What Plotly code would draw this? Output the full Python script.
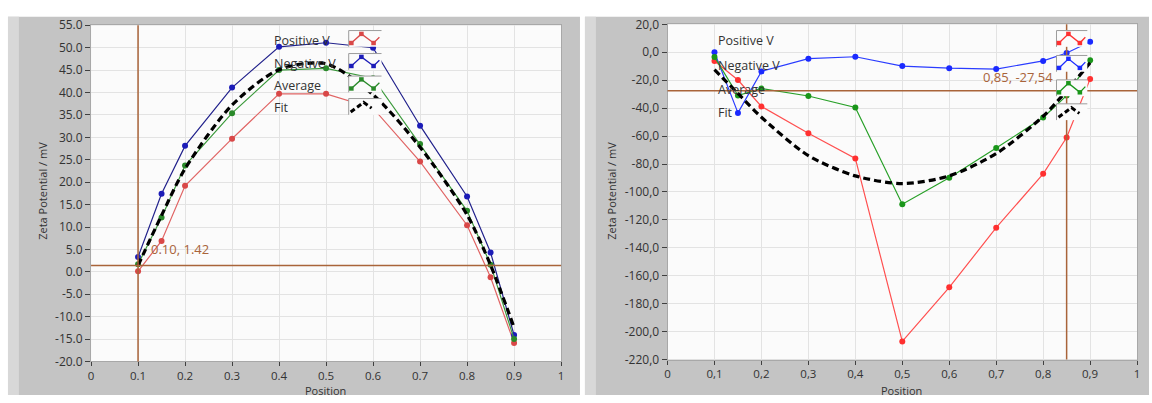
import plotly.graph_objects as go

W, H = 1152, 403


def fx(p):
    return p / W


def fy(p):
    return 1 - p / H


# ---------------- data ----------------
positions = [0.1, 0.15, 0.2, 0.3, 0.4, 0.5, 0.6, 0.7, 0.8, 0.85, 0.9]

left_positive_v = [0.1, 6.9, 19.2, 29.7, 39.7, 39.7, 36.5, 24.6, 10.4, -1.2, -15.9]
left_negative_v = [3.3, 17.4, 28.1, 41.1, 50.2, 51.1, 50.0, 32.6, 16.8, 4.3, -14.1]
left_average = [1.7, 12.1, 23.7, 35.4, 45.0, 45.4, 43.2, 28.5, 13.6, 1.6, -15.0]
left_fit = [1.42, 12.6, 23.0, 37.2, 45.1, 46.4, 39.5, 27.8, 12.7, 1.5, -12.4]

right_positive_v = [-6.2, -19.9, -38.8, -58.0, -76.0, -207.0, -168.3, -125.6, -87.0, -61.0, -19.2]
right_negative_v = [0.0, -43.4, -13.7, -4.6, -3.2, -9.9, -11.4, -12.0, -6.2, -0.5, 7.5]
right_average = [-3.3, -31.0, -25.9, -31.3, -39.5, -108.8, -89.8, -68.6, -46.7, -31.0, -5.8]
right_fit = [-12.5, -29.5, -46.5, -74.0, -88.5, -94.0, -88.5, -72.5, -45.8, -27.54, -7.5]

left_cursor = (0.10, 1.42)
right_cursor = (0.85, -27.54)
left_cursor_label = "0.10, 1.42"
right_cursor_label = "0,85, -27,54"

series_names = ["Positive V", "Negative V", "Average", "Fit"]

x_tickvals = [0, 0.1, 0.2, 0.3, 0.4, 0.5, 0.6, 0.7, 0.8, 0.9, 1]
left_x_ticktext = ["0", "0.1", "0.2", "0.3", "0.4", "0.5", "0.6", "0.7", "0.8", "0.9", "1"]
right_x_ticktext = ["0", "0,1", "0,2", "0,3", "0,4", "0,5", "0,6", "0,7", "0,8", "0,9", "1"]

left_y_tickvals = [55, 50, 45, 40, 35, 30, 25, 20, 15, 10, 5, 0, -5, -10, -15, -20]
left_y_ticktext = ["55.0", "50.0", "45.0", "40.0", "35.0", "30.0", "25.0", "20.0", "15.0",
                   "10.0", "5.0", "0.0", "-5.0", "-10.0", "-15.0", "-20.0"]
right_y_tickvals = [20, 0, -20, -40, -60, -80, -100, -120, -140, -160, -180, -200, -220]
right_y_ticktext = ["20,0", "0,0", "-20,0", "-40,0", "-60,0", "-80,0", "-100,0", "-120,0",
                    "-140,0", "-160,0", "-180,0", "-200,0", "-220,0"]

x_title = "Position"
y_title = "Zeta Potential / mV"

# ---------------- styles ----------------
FONT = "Open Sans"
TXT = "#333333"
FRAME = "#c4c4c4"
FRAME_LIGHT = "#d8d8d8"
PLOT_BG = "#fbfbfb"
GRID = "#e3e3e3"
CURSOR = "#a9643a"

left_colors = {"Positive V": ("#e06464", "#d94848"),
               "Negative V": ("#22228c", "#1c1cb8"),
               "Average": ("#3c9a3c", "#2a8a2a"),
               "Fit": ("#000000", "#000000")}
right_colors = {"Positive V": ("#ff5050", "#ff3030"),
                "Negative V": ("#2a3cff", "#1a2aff"),
                "Average": ("#28a028", "#1a961a"),
                "Fit": ("#000000", "#000000")}

LEFT_PLOT = (88.5, 561, 17, 368)     # px: x0, x1, ytop, ybottom
RIGHT_PLOT = (668, 1140, 16, 366)

fig = go.Figure()


def add_series(xa, ya, data, colors):
    for name, vals in zip(series_names, data):
        lc, mc = colors[name]
        if name == "Fit":
            fig.add_trace(go.Scatter(
                x=positions, y=vals, xaxis=xa, yaxis=ya, mode="lines",
                line=dict(color=lc, width=3.2, dash="7px,4px", shape="spline", smoothing=0.8),
                name=name, showlegend=False, hoverinfo="skip"))
        else:
            fig.add_trace(go.Scatter(
                x=positions, y=vals, xaxis=xa, yaxis=ya, mode="lines+markers",
                line=dict(color=lc, width=1.2),
                marker=dict(color=mc, size=6, line=dict(width=0)),
                name=name, showlegend=False, hoverinfo="skip"))


add_series("x", "y", [left_positive_v, left_negative_v, left_average, left_fit], left_colors)
add_series("x2", "y2", [right_positive_v, right_negative_v, right_average, right_fit], right_colors)

axis_common = dict(
    showgrid=True, gridcolor=GRID, gridwidth=1, zeroline=False,
    showline=True, linecolor="#a8a8a8", linewidth=1, mirror=True,
    ticks="outside", tickwidth=1, tickcolor="#404040", fixedrange=True,
)
xfont = dict(family=FONT, size=11.5, color=TXT)
yfont = dict(family=FONT, size=12, color=TXT)

fig.update_layout(
    width=W, height=H, autosize=False,
    margin=dict(l=0, r=0, t=0, b=0),
    paper_bgcolor="white", plot_bgcolor=PLOT_BG,
    showlegend=False,
    xaxis=dict(domain=[fx(LEFT_PLOT[0]), fx(LEFT_PLOT[1])], range=[0, 1], anchor="y", ticklen=4,
               tickfont=xfont, tickmode="array", tickvals=x_tickvals, ticktext=left_x_ticktext,
               **axis_common),
    yaxis=dict(domain=[fy(LEFT_PLOT[3]), fy(LEFT_PLOT[2])], range=[-20, 55], anchor="x", ticklen=5,
               tickfont=yfont, tickmode="array", tickvals=left_y_tickvals, ticktext=left_y_ticktext,
               **axis_common),
    xaxis2=dict(domain=[fx(RIGHT_PLOT[0]), fx(RIGHT_PLOT[1])], range=[0, 1], anchor="y2", ticklen=4,
                tickfont=xfont, tickmode="array", tickvals=x_tickvals, ticktext=right_x_ticktext,
                **axis_common),
    yaxis2=dict(domain=[fy(RIGHT_PLOT[3]), fy(RIGHT_PLOT[2])], range=[-220, 20], anchor="x2", ticklen=5,
                tickfont=yfont, tickmode="array", tickvals=right_y_tickvals, ticktext=right_y_ticktext,
                **axis_common),
)

shapes = []
# gray panel frames, then plot-area backgrounds on top of them
for x0, x1 in [(5, 580), (585, 1152)]:
    shapes.append(dict(type="rect", xref="paper", yref="paper", layer="below",
                       x0=fx(x0), x1=fx(x1), y0=0, y1=fy(8),
                       fillcolor=FRAME, line=dict(width=0)))
    shapes.append(dict(type="rect", xref="paper", yref="paper", layer="below",
                       x0=fx(x0), x1=fx(x0 + 11), y0=0, y1=fy(8),
                       fillcolor=FRAME_LIGHT, line=dict(width=0)))
for (x0, x1, yt, yb) in [LEFT_PLOT, RIGHT_PLOT]:
    shapes.append(dict(type="rect", xref="paper", yref="paper", layer="below",
                       x0=fx(x0), x1=fx(x1), y0=fy(yb), y1=fy(yt),
                       fillcolor=PLOT_BG, line=dict(width=0)))

# cursors
for xa, ya, (cx, cy) in [("x", "y", left_cursor), ("x2", "y2", right_cursor)]:
    shapes.append(dict(type="line", xref=xa, yref=ya + " domain", x0=cx, x1=cx, y0=0, y1=1,
                       line=dict(color=CURSOR, width=1.5), layer="above"))
    shapes.append(dict(type="line", xref=xa + " domain", yref=ya, x0=0, x1=1, y0=cy, y1=cy,
                       line=dict(color=CURSOR, width=1.5), layer="above"))


# legend icons (LabVIEW style: label left, icon box right)
def icon(x_left, y_top, w, color, is_fit):
    h = 17
    shapes.append(dict(type="rect", xref="paper", yref="paper", layer="above",
                       x0=fx(x_left), x1=fx(x_left + w), y0=fy(y_top + h), y1=fy(y_top),
                       fillcolor=PLOT_BG, line=dict(width=0)))
    shapes.append(dict(type="line", xref="paper", yref="paper", layer="above",
                       x0=fx(x_left), x1=fx(x_left + w), y0=fy(y_top), y1=fy(y_top),
                       line=dict(color="#9c9c9c", width=1)))
    shapes.append(dict(type="line", xref="paper", yref="paper", layer="above",
                       x0=fx(x_left), x1=fx(x_left), y0=fy(y_top), y1=fy(y_top + h),
                       line=dict(color="#9c9c9c", width=1)))
    if is_fit:
        pts = [(x_left + 2, y_top + 14), (x_left + 15, y_top + 4), (x_left + 23, y_top + 10)]
        path = "M " + " L ".join(f"{fx(a):.5f},{fy(b):.5f}" for a, b in pts)
        shapes.append(dict(type="path", xref="paper", yref="paper", layer="above", path=path,
                           line=dict(color=color, width=3, dash="5px,3px")))
    else:
        s = w / 31.0
        pts = [(x_left + 2.5 * s, y_top + 13), (x_left + 12 * s, y_top + 3.5),
               (x_left + 23.5 * s, y_top + 13), (x_left + 29 * s, y_top + 7)]
        path = "M " + " L ".join(f"{fx(a):.5f},{fy(b):.5f}" for a, b in pts)
        shapes.append(dict(type="path", xref="paper", yref="paper", layer="above", path=path,
                           line=dict(color=color, width=1.3)))
        for a, b in pts[:3]:
            shapes.append(dict(type="rect", xref="paper", yref="paper", layer="above",
                               x0=fx(a - 2.3), x1=fx(a + 2.3), y0=fy(b + 2.3), y1=fy(b - 2.3),
                               fillcolor=color, line=dict(width=0)))


annotations = []
legend_layouts = [
    (left_colors, 270.5, [33, 57, 80, 103], 347.5, [22.5, 46.5, 70, 93.5], 33),
    (right_colors, 716.5, [32.5, 58.5, 84, 108.5], 1059, [22.5, 48.5, 74, 99], 31),
]
for colors, tx, trows, ix, irows, iw in legend_layouts:
    for name, ty, iy in zip(series_names, trows, irows):
        annotations.append(dict(xref="paper", yref="paper", x=fx(tx), y=fy(ty),
                                xanchor="left", yanchor="middle", showarrow=False,
                                text=name, font=dict(family=FONT, size=12.5, color=TXT)))
        icon(ix, iy, iw, colors[name][1], name == "Fit")

# cursor labels
annotations.append(dict(xref="x", yref="y", x=left_cursor[0], y=left_cursor[1],
                        xanchor="left", yanchor="middle", xshift=11, yshift=16, showarrow=False,
                        text=left_cursor_label, font=dict(family=FONT, size=13, color=CURSOR)))
annotations.append(dict(xref="x2", yref="y2", x=right_cursor[0], y=right_cursor[1],
                        xanchor="right", yanchor="middle", xshift=-12, yshift=14, showarrow=False,
                        text=right_cursor_label, font=dict(family=FONT, size=13, color=CURSOR)))

# axis titles
for x_c, y_c in [(40, 190), (612, 190)]:
    annotations.append(dict(xref="paper", yref="paper", x=fx(x_c), y=fy(y_c),
                            xanchor="center", yanchor="middle", showarrow=False, textangle=-90,
                            text=y_title, font=dict(family=FONT, size=11, color=TXT)))
for x_c in [324, 903]:
    annotations.append(dict(xref="paper", yref="paper", x=fx(x_c), y=fy(398.5),
                            xanchor="center", yanchor="middle", showarrow=False,
                            text=x_title, font=dict(family=FONT, size=11, color=TXT)))

fig.update_layout(shapes=shapes, annotations=annotations)

POST = (
    "document.documentElement.style.margin='0';"
    "document.documentElement.style.padding='0';"
    "document.documentElement.style.overflow='hidden';"
    "document.body.style.margin='0';"
    "document.body.style.padding='0';"
    "document.body.style.overflow='hidden';"
    "document.body.style.height='403px';"
    "var gd=document.getElementById('{plot_id}');"
    "gd.style.position='fixed';gd.style.left='0px';gd.style.top='0px';"
)

fig.write_html("out.html", config={"displayModeBar": False}, post_script=POST)
